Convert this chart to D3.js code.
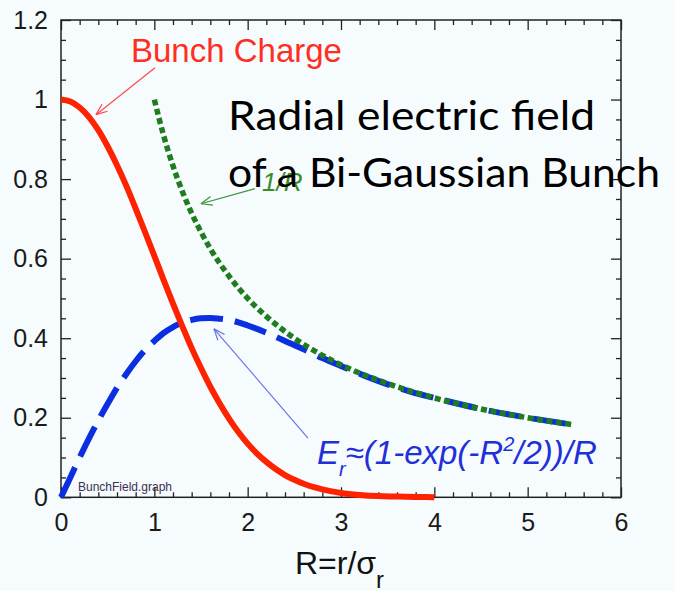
<!DOCTYPE html>
<html>
<head>
<meta charset="utf-8">
<script src="https://cdn.jsdelivr.net/npm/d3@7/dist/d3.min.js"></script>
<style>
  html, body { margin: 0; padding: 0; background: #f6fbfd; }
  svg { display: block; }
</style>
</head>
<body>
<svg id="chart" width="675" height="591"></svg>
<script>
// ---------------- DATA ----------------
const chargeR = [0,0.1,0.2,0.3,0.4,0.5,0.6,0.7,0.8,0.9,1.0,1.1,1.2,1.3,1.4,1.5,1.6,1.7,1.8,1.9,2.0,2.1,2.2,2.3,2.4,2.5,2.6,2.7,2.8,2.9,3.0,3.2,3.4,3.6,3.8,4.0];
const chargeV = [1.000,0.995,0.980,0.956,0.923,0.882,0.835,0.783,0.726,0.667,0.607,0.546,0.487,0.430,0.375,0.325,0.278,0.236,0.198,0.164,0.135,0.110,0.089,0.071,0.056,0.044,0.034,0.026,0.020,0.015,0.011,0.006,0.003,0.002,0.001,0.000];

const fieldR = [0,0.1,0.2,0.3,0.4,0.5,0.6,0.7,0.8,0.9,1.0,1.1,1.2,1.3,1.4,1.5,1.6,1.7,1.8,1.9,2.0,2.2,2.4,2.6,2.8,3.0,3.25,3.5,3.75,4.0,4.5,5.0,5.5];
const fieldV = [0,0.050,0.100,0.148,0.193,0.235,0.275,0.310,0.342,0.370,0.393,0.413,0.428,0.439,0.446,0.450,0.451,0.449,0.446,0.440,0.432,0.414,0.393,0.372,0.350,0.330,0.306,0.284,0.265,0.250,0.222,0.200,0.182];

const invR = [1.0,1.1,1.2,1.3,1.4,1.5,1.6,1.8,2.0,2.2,2.5,2.8,3.0,3.5,4.0,4.5,5.0,5.5];
const invV = [1.000,0.909,0.833,0.769,0.714,0.667,0.625,0.556,0.500,0.455,0.400,0.357,0.333,0.286,0.250,0.222,0.200,0.182];

const xTicks = [0,1,2,3,4,5,6];
const xTickLabels = ["0","1","2","3","4","5","6"];
const yTicks = [0,0.2,0.4,0.6,0.8,1.0,1.2];
const yTickLabels = ["0","0.2","0.4","0.6","0.8","1","1.2"];

// ---------------- LAYOUT ----------------
const svg = d3.select("#chart");
const W = 675, H = 591;
const L = 61, R = 621, T = 20, B = 497.3;

svg.append("rect").attr("width", W).attr("height", H).attr("fill", "#f6fbfd");

const x = d3.scaleLinear().domain([0, 6]).range([L, R]);
const y = d3.scaleLinear().domain([0, 1.2]).range([B, T]);

const xMinor = d3.range(0, 6.001, 0.2).map(v => +v.toFixed(2)).filter(v => Math.abs(v - Math.round(v)) > 1e-6);
const yMinor = d3.range(0, 1.2001, 0.05).map(v => +v.toFixed(2)).filter(v => Math.abs(v / 0.2 - Math.round(v / 0.2)) > 1e-6);

function styleAxis(g) {
  g.select(".domain").remove();
  g.selectAll(".tick line").attr("stroke", "#222").attr("stroke-width", 1.3);
  g.selectAll(".tick text").attr("fill", "#1a1a1a")
    .style("font-family", "'Liberation Sans', Arial, Helvetica, sans-serif")
    .style("font-size", "25px");
}

// bottom
svg.append("g").attr("transform", `translate(0,${B})`)
  .call(d3.axisBottom(x).tickValues(xTicks).tickSize(-10).tickPadding(16)
    .tickFormat((d, i) => xTickLabels[i]))
  .call(styleAxis);
svg.append("g").attr("transform", `translate(0,${B})`)
  .call(d3.axisBottom(x).tickValues(xMinor).tickSize(-5).tickFormat(""))
  .call(styleAxis);
// top
svg.append("g").attr("transform", `translate(0,${T})`)
  .call(d3.axisTop(x).tickValues(xTicks).tickSize(-10).tickFormat(""))
  .call(styleAxis);
svg.append("g").attr("transform", `translate(0,${T})`)
  .call(d3.axisTop(x).tickValues(xMinor).tickSize(-5).tickFormat(""))
  .call(styleAxis);
// left
svg.append("g").attr("transform", `translate(${L},0)`)
  .call(d3.axisLeft(y).tickValues(yTicks).tickSize(-10).tickPadding(13)
    .tickFormat((d, i) => yTickLabels[i]))
  .call(styleAxis);
svg.append("g").attr("transform", `translate(${L},0)`)
  .call(d3.axisLeft(y).tickValues(yMinor).tickSize(-5).tickFormat(""))
  .call(styleAxis);
// right
svg.append("g").attr("transform", `translate(${R},0)`)
  .call(d3.axisRight(y).tickValues(yTicks).tickSize(-10).tickFormat(""))
  .call(styleAxis);
svg.append("g").attr("transform", `translate(${R},0)`)
  .call(d3.axisRight(y).tickValues(yMinor).tickSize(-5).tickFormat(""))
  .call(styleAxis);

// frame
svg.append("rect").attr("x", L).attr("y", T).attr("width", R - L).attr("height", B - T)
  .attr("fill", "none").attr("stroke", "#222").attr("stroke-width", 1.5);

// ---------------- CURVES ----------------
const line = d3.line().x(d => x(d[0])).y(d => y(d[1])).curve(d3.curveMonotoneX);

const fieldData = fieldR.map((r, i) => [r, fieldV[i]]);
const chargeData = chargeR.map((r, i) => [r, chargeV[i]]);
const invData = invR.map((r, i) => [r, invV[i]]);

svg.append("path").datum(fieldData).attr("d", line)
  .attr("fill", "none").attr("stroke", "#0a2ee0").attr("stroke-width", 6)
  .attr("stroke-dasharray", "33,12");

svg.append("path").datum(chargeData).attr("d", line)
  .attr("fill", "none").attr("stroke", "#ff2200").attr("stroke-width", 6);

svg.append("path").datum(invData).attr("d", line)
  .attr("fill", "none").attr("stroke", "#1f7d1f").attr("stroke-width", 5.5)
  .attr("stroke-dasharray", "6,3.5");

// ---------------- ANNOTATIONS ----------------
function arrow(x1, y1, x2, y2, color) {
  const px1 = x(x1), py1 = y(y1), px2 = x(x2), py2 = y(y2);
  const g = svg.append("g").attr("stroke", color).attr("stroke-width", 1.2).attr("fill", "none");
  g.append("line").attr("x1", px1).attr("y1", py1).attr("x2", px2).attr("y2", py2);
  const ang = Math.atan2(py1 - py2, px1 - px2);
  const len = 12, spread = 0.38;
  [ang - spread, ang + spread].forEach(a => {
    g.append("line").attr("x1", px2).attr("y1", py2)
      .attr("x2", px2 + len * Math.cos(a)).attr("y2", py2 + len * Math.sin(a));
  });
}

arrow(1.007, 1.080, 0.375, 0.962, "#ff4a4a");
arrow(2.079, 0.776, 1.50, 0.738, "#3a963a");
arrow(2.646, 0.149, 1.639, 0.4234, "#6a72e6");

const sans = "'Liberation Sans', Arial, Helvetica, sans-serif";

svg.append("text").attr("x", x(0.75)).attr("y", y(1.0955))
  .attr("fill", "#ff2e22").style("font-family", sans).style("font-size", "33px")
  .text("Bunch Charge");

svg.append("text").attr("x", x(2.154)).attr("y", y(0.771))
  .attr("fill", "#3a8c28").style("font-family", sans).style("font-size", "26px")
  .style("font-style", "italic").text("1/R");

const f = svg.append("text").attr("x", x(2.743)).attr("y", y(0.084))
  .attr("fill", "#1f30d8").style("font-family", sans).style("font-size", "33px")
  .style("font-style", "italic");
f.append("tspan").text("E");
f.append("tspan").attr("dy", 12).style("font-size", "20px").text("r");
f.append("tspan").attr("dy", -12).text("\u2248(1-exp(-R");
f.append("tspan").attr("dy", -13).style("font-size", "20px").text("2");
f.append("tspan").attr("dy", 13).text("/2))/R");

svg.append("text").attr("x", x(0.182)).attr("y", y(0.016))
  .attr("fill", "#3a3050").style("font-family", sans).style("font-size", "12px")
  .text("BunchField.graph");

// axis title
const xt = svg.append("text").attr("x", 295).attr("y", 574)
  .attr("fill", "#111").style("font-family", sans).style("font-size", "32px");
xt.append("tspan").text("R=r/\u03C3");
xt.append("tspan").attr("dy", 14).style("font-size", "24px").text("r");

// overlay title (on top)
const title = "Lato, 'Open Sans', sans-serif";
svg.append("text").attr("x", 228).attr("y", 130)
  .attr("fill", "#000").style("font-family", title).style("font-size", "40px")
  .attr("textLength", 367).attr("lengthAdjust", "spacingAndGlyphs")
  .text("Radial electric field");
svg.append("text").attr("x", 228).attr("y", 187)
  .attr("fill", "#000").style("font-family", title).style("font-size", "40px")
  .attr("textLength", 432).attr("lengthAdjust", "spacingAndGlyphs")
  .text("of a Bi-Gaussian Bunch");
</script>
</body>
</html>
